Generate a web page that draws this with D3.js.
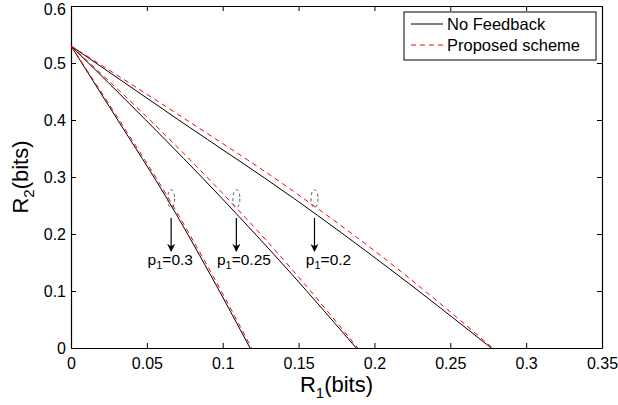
<!DOCTYPE html>
<html>
<head>
<meta charset="utf-8">
<script src="https://cdn.jsdelivr.net/npm/d3@7"></script>
<style>
  body { margin: 0; background: #fff; }
  text { font-family: "Liberation Sans", Arial, sans-serif; }
</style>
</head>
<body>
<svg id="chart"></svg>
<script>
// --- data ---
const xTicks = [0, 0.05, 0.1, 0.15, 0.2, 0.25, 0.3, 0.35];
const yTicks = [0, 0.1, 0.2, 0.3, 0.4, 0.5, 0.6];
const xTickLabels = ['0', '0.05', '0.1', '0.15', '0.2', '0.25', '0.3', '0.35'];
const yTickLabels = ['0', '0.1', '0.2', '0.3', '0.4', '0.5', '0.6'];

const p1Values = [0.3, 0.25, 0.2];
// no feedback boundaries (slightly bowed)
const noFbR1 = [
  [0, 0.0308, 0.0631, 0.092, 0.118],
  [0, 0.0493, 0.0993, 0.145, 0.188],
  [0, 0.071, 0.1466, 0.21, 0.277]
];
const noFbR2 = [
  [0.53, 0.400, 0.263, 0.128, 0],
  [0.53, 0.400, 0.263, 0.131, 0],
  [0.53, 0.400, 0.263, 0.139, 0]
];
// proposed scheme boundaries, a little above
const propR1 = [
  [0, 0.0308, 0.0631, 0.092, 0.119],
  [0, 0.0493, 0.0993, 0.145, 0.189],
  [0, 0.071, 0.1466, 0.21, 0.278]
];
const propR2 = [
  [0.53, 0.404, 0.268, 0.134, 0],
  [0.53, 0.407, 0.273, 0.140, 0],
  [0.53, 0.409, 0.275, 0.150, 0]
];
// annotation marks (R1 position of ellipse/arrow, label start)
const annoR1 = [0.066, 0.109, 0.1605];
const annoLabelR1 = [0.0505, 0.0962, 0.1548];
const legendLabels = ['No Feedback', 'Proposed scheme'];

const width = 618, height = 405;
const margin = { top: 6, right: 16, bottom: 57, left: 71 };

const svg = d3.select('#chart').attr('width', width).attr('height', height);

const x = d3.scaleLinear().domain([0, 0.35]).range([margin.left, width - margin.right]);
const y = d3.scaleLinear().domain([0, 0.6]).range([height - margin.bottom, margin.top]);

// axes with inward ticks, mirrored on top/right
const fmtX = (d, i) => xTickLabels[i];
const fmtY = (d, i) => yTickLabels[i];
svg.append('g')
  .attr('transform', `translate(0,${y(0)})`)
  .call(d3.axisBottom(x).tickValues(xTicks).tickFormat(fmtX).tickSizeInner(-5).tickSizeOuter(0).tickPadding(10))
  .call(g => g.selectAll('text').attr('font-size', 16).attr('fill', '#000'));
svg.append('g')
  .attr('transform', `translate(0,${y(0.6)})`)
  .call(d3.axisTop(x).tickValues(xTicks).tickFormat('').tickSizeInner(-5).tickSizeOuter(0));
svg.append('g')
  .attr('transform', `translate(${x(0)},0)`)
  .call(d3.axisLeft(y).tickValues(yTicks).tickFormat(fmtY).tickSizeInner(-5).tickSizeOuter(0).tickPadding(5))
  .call(g => g.selectAll('text').attr('font-size', 16).attr('fill', '#000'))
  .call(g => g.selectAll('.tick').filter(d => d === 0.6).select('text').attr('dy', '0.5em'));
svg.append('g')
  .attr('transform', `translate(${x(0.35)},0)`)
  .call(d3.axisRight(y).tickValues(yTicks).tickFormat('').tickSizeInner(-5).tickSizeOuter(0));
svg.selectAll('.domain').attr('stroke', '#000').attr('stroke-width', 1.2);
svg.selectAll('.tick line').attr('stroke', '#000');

// curves
const line = d3.line().x(d => x(d[0])).y(d => y(d[1])).curve(d3.curveMonotoneX);
noFbR1.forEach((xs, i) => {
  svg.append('path')
    .datum(xs.map((v, j) => [v, noFbR2[i][j]]))
    .attr('fill', 'none').attr('stroke', '#000').attr('stroke-width', 1)
    .attr('d', line);
});
propR1.forEach((xs, i) => {
  svg.append('path')
    .datum(xs.map((v, j) => [v, propR2[i][j]]))
    .attr('fill', 'none').attr('stroke', '#ff0000').attr('stroke-width', 1)
    .attr('stroke-dasharray', '5,4')
    .attr('d', line);
});

// annotations: dashed ellipse, arrow, label
svg.append('defs').append('marker')
  .attr('id', 'arrow').attr('viewBox', '0 0 10 10')
  .attr('refX', 9).attr('refY', 5)
  .attr('markerWidth', 8).attr('markerHeight', 8)
  .attr('markerUnits', 'userSpaceOnUse')
  .attr('orient', 'auto')
  .append('path').attr('d', 'M0,0 L10,5 L0,10 L3,5 Z').attr('fill', '#000');

annoR1.forEach((r1, i) => {
  svg.append('ellipse')
    .attr('cx', x(r1)).attr('cy', y(0.262))
    .attr('rx', 3.5).attr('ry', 9)
    .attr('fill', 'none').attr('stroke', '#555').attr('stroke-width', 1)
    .attr('stroke-dasharray', '3,3');
  svg.append('line')
    .attr('x1', x(r1)).attr('x2', x(r1))
    .attr('y1', y(0.228)).attr('y2', y(0.17))
    .attr('stroke', '#000').attr('stroke-width', 1.2)
    .attr('marker-end', 'url(#arrow)');
  const t = svg.append('text')
    .attr('x', x(annoLabelR1[i])).attr('y', y(0.146))
    .attr('font-size', 15.5).attr('fill', '#000');
  t.append('tspan').text('p');
  t.append('tspan').attr('dy', 4).attr('font-size', 11).text('1');
  t.append('tspan').attr('dy', -4).text('=' + p1Values[i]);
});

// axis titles
const xt = svg.append('text')
  .attr('x', (x(0) + x(0.35)) / 2).attr('y', 392)
  .attr('text-anchor', 'middle').attr('font-size', 22);
xt.append('tspan').text('R');
xt.append('tspan').attr('dy', 6).attr('font-size', 15).text('1');
xt.append('tspan').attr('dy', -6).text('(bits)');

const yt = svg.append('text')
  .attr('transform', `translate(28,${(y(0) + y(0.6)) / 2}) rotate(-90)`)
  .attr('text-anchor', 'middle').attr('font-size', 22);
yt.append('tspan').text('R');
yt.append('tspan').attr('dy', 6).attr('font-size', 15).text('2');
yt.append('tspan').attr('dy', -6).text('(bits)');

// legend
const lg = svg.append('g').attr('transform', 'translate(404,12)');
lg.append('rect').attr('width', 192).attr('height', 48)
  .attr('fill', '#fff').attr('stroke', '#000').attr('stroke-width', 1);
legendLabels.forEach((lab, i) => {
  const ly = 12 + i * 21;
  lg.append('line').attr('x1', 7).attr('x2', 39).attr('y1', ly).attr('y2', ly)
    .attr('stroke', i === 0 ? '#000' : '#ff0000').attr('stroke-width', 1)
    .attr('stroke-dasharray', i === 0 ? null : '5,4');
  lg.append('text').attr('x', 43).attr('y', ly + 5.5)
    .attr('font-size', 16.5).attr('fill', '#000').text(lab);
});
</script>
</body>
</html>
